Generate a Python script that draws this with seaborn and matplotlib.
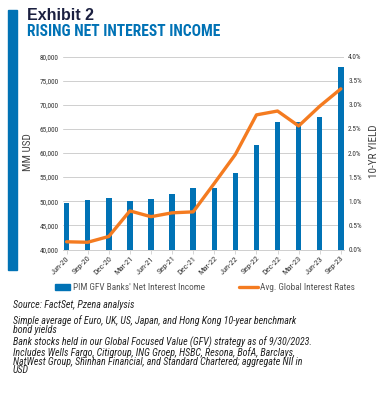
import matplotlib
matplotlib.use("Agg")
import matplotlib.pyplot as plt
from matplotlib import font_manager
from matplotlib.patches import Rectangle, Patch
from matplotlib.lines import Line2D
from matplotlib.ticker import FuncFormatter, MultipleLocator
import seaborn as sns
import pandas as pd
import numpy as np

quarters = ['Jun-20', 'Sep-20', 'Dec-20', 'Mar-21', 'Jun-21', 'Sep-21', 'Dec-21',
            'Mar-22', 'Jun-22', 'Sep-22', 'Dec-22', 'Mar-23', 'Jun-23', 'Sep-23']
nii = [49550, 50250, 50650, 50050, 50400, 51400, 52750,
       52750, 55900, 61650, 66350, 66500, 67400, 77900]
rates = [0.16, 0.15, 0.27, 0.80, 0.68, 0.76, 0.78,
         1.37, 1.97, 2.79, 2.87, 2.56, 2.97, 3.33]

BLUE = '#0072b5'
ORANGE = '#f47b20'
GRID = '#cfcfcf'

sns.set_theme(style='white')
installed = {f.name for f in font_manager.fontManager.ttflist}
NARROW = next((n for n in ['Liberation Sans Narrow', 'Roboto Condensed', 'Arial Narrow']
               if n in installed), 'Liberation Sans')
plt.rcParams['font.family'] = [NARROW, 'DejaVu Sans']

df = pd.DataFrame({'quarter': quarters, 'nii': nii, 'rate': rates,
                   'pos': np.arange(len(quarters))})

fig = plt.figure(figsize=(3.85, 4.09), dpi=100)
W, H = 385, 409

# blue side bar
fig.patches.append(Rectangle((8 / W, 1 - 270 / H), 9 / W, 260 / H,
                             transform=fig.transFigure, color=BLUE, zorder=0))
fig.text(27 / W, 1 - 15.5 / H, 'Exhibit 2', fontsize=11.5, fontweight='bold',
         color='#1b2040', va='center', family=['Liberation Sans', 'DejaVu Sans'])
fig.text(27 / W, 1 - 32 / H, 'RISING NET INTEREST INCOME', fontsize=11.2,
         fontweight='bold', color=BLUE, va='center')

ax = fig.add_axes([63 / W, 1 - 249.5 / H, (344 - 63) / W, (249.5 - 56.5) / H])
sns.barplot(data=df, x='quarter', y='nii', color=BLUE, width=0.26,
            saturation=1, linewidth=0, ax=ax, zorder=2)
ax.set_ylim(40000, 80000)
ax.set_xlim(-0.17, 13.15)
ax.yaxis.set_major_locator(MultipleLocator(5000))
ax.yaxis.set_major_formatter(FuncFormatter(lambda v, p: f'{int(v):,}'))
ax.grid(axis='y', color=GRID, lw=0.7, zorder=0)
ax.set_axisbelow(True)
for s in ['top', 'left', 'right']:
    ax.spines[s].set_visible(False)
ax.spines['bottom'].set_color(GRID)
ax.spines['bottom'].set_linewidth(0.7)
ax.tick_params(axis='y', length=0, labelsize=5.2, labelcolor='#333333', pad=3)
ax.tick_params(axis='x', length=3, width=0.6, color=GRID, labelsize=6,
               labelcolor='#333333', pad=1, bottom=True)
plt.setp(ax.get_xticklabels(), rotation=45, ha='right', rotation_mode='anchor')
ax.set_xlabel('')
ax.set_ylabel('MM USD', fontsize=8, color='#444444')
ax.yaxis.set_label_coords(-0.107, 0.505)

ax2 = ax.twinx()
sns.lineplot(data=df, x='pos', y='rate', color=ORANGE, lw=2.4, ax=ax2,
             solid_capstyle='round')
ax2.set_ylim(0, 4)
ax2.set_xlim(-0.17, 13.15)
ax2.yaxis.set_major_locator(MultipleLocator(0.5))
ax2.yaxis.set_major_formatter(FuncFormatter(lambda v, p: f'{v:.1f}%'))
for s in ax2.spines.values():
    s.set_visible(False)
ax2.tick_params(axis='y', length=0, labelsize=5.2, labelcolor='#333333', pad=3)
ax2.set_ylabel('10-YR YIELD', fontsize=8, color='#444444')
ax2.yaxis.set_label_coords(1.088, 0.51)
ax2.set_xlabel('')

leg_kw = dict(loc='center left', frameon=False, fontsize=6.7, borderpad=0,
              borderaxespad=0, handletextpad=0.3, labelcolor='#555555')
leg1 = fig.legend([Patch(color=BLUE)], ["PIM GFV Banks' Net Interest Income"],
                  bbox_to_anchor=(55 / W, 1 - 288 / H), handlelength=1.6,
                  handleheight=0.55, **leg_kw)
leg2 = fig.legend([Line2D([], [], color=ORANGE, lw=2.4)], ['Avg. Global Interest Rates'],
                  bbox_to_anchor=(239 / W, 1 - 288 / H), handlelength=2.0, **leg_kw)

notes = [
    (305, 'Source: FactSet, Pzena analysis'),
    (325.2, 'Simple average of Euro, UK, US, Japan, and Hong Kong 10-year benchmark\n'
            'bond yields'),
    (356, 'Bank stocks held in our Global Focused Value (GFV) strategy as of 9/30/2023.\n'
          'Includes Wells Fargo, Citigroup, ING Groep, HSBC, Resona, BofA, Barclays,\n'
          'NatWest Group, Shinhan Financial, and Standard Chartered; aggregate NII in\n'
          'USD'),
]
for y, t in notes:
    fig.text(13 / W, 1 - y / H, t, fontsize=7.2, style='italic', color='#222222',
             va='center', linespacing=0.85)

fig.savefig('out.png', dpi=100)
